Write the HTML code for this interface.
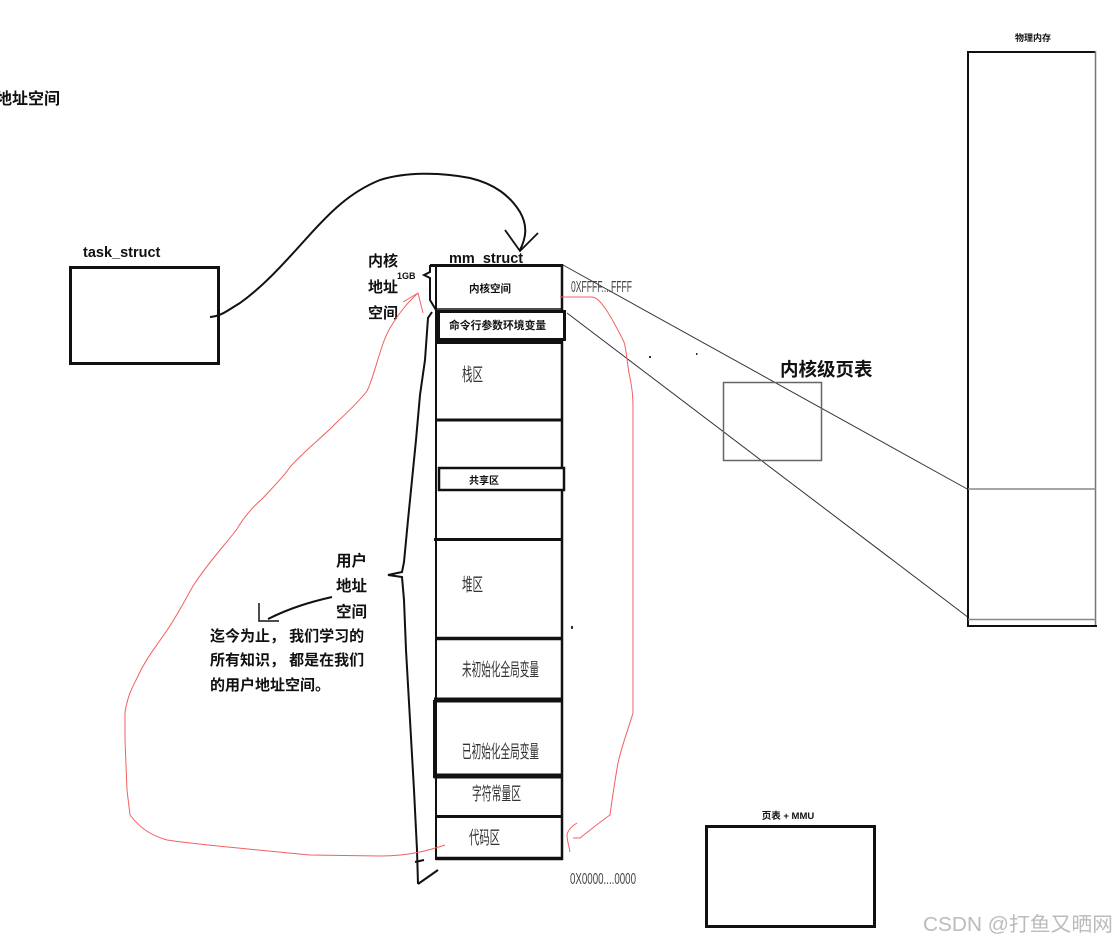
<!DOCTYPE html>
<html><head><meta charset="utf-8"><style>
html,body{margin:0;padding:0;background:#fff;}
svg{display:block;}
text{font-family:"Liberation Sans","Noto Sans CJK SC",sans-serif;}
.b{font-weight:bold;fill:#111;}
.c{fill:#333;font-family:"Noto Sans CJK SC","Liberation Sans",sans-serif;font-weight:400;}
</style></head><body>
<svg width="1119" height="944" viewBox="0 0 1119 944" xmlns="http://www.w3.org/2000/svg">
<rect width="1119" height="944" fill="#fff"/>

<!-- top-left clipped title -->
<text x="-4" y="104" class="b" font-size="16">地址空间</text>

<!-- task_struct -->
<text x="83" y="257" class="b" font-size="14.5">task_struct</text>
<rect x="70.5" y="267.5" width="148" height="96" fill="none" stroke="#111" stroke-width="3"/>

<!-- curve task -> mm -->
<path d="M210,317 C222,316 228,310 240,303 C265,285 285,262 305,240 C330,212 350,192 380,180 C405,172 440,172 470,178 C495,184 510,196 520,212 C528,226 526,238 520,250" fill="none" stroke="#111" stroke-width="2"/>
<path d="M505,230 L520,251 L538,233" fill="none" stroke="#111" stroke-width="1.8"/>

<!-- mm_struct label -->
<text x="449" y="263" class="b" font-size="14.5">mm_struct</text>

<!-- kernel labels -->
<text x="368" y="266" class="b" font-size="15">内核</text>
<text x="368" y="292" class="b" font-size="15">地址</text>
<text x="368" y="318" class="b" font-size="15">空间</text>
<text x="397" y="279" class="b" font-size="9">1GB</text>

<!-- brace top -->
<path d="M436,265 L430,266 L430,272 L424,275 L430,278 L430,300 L436,310" fill="none" stroke="#111" stroke-width="2"/>
<!-- long left brace -->
<path d="M432,312 L428,318 L425,360 L420,395 L416,440 L412,480 L408,520 L404,562 L402,572 L388,575 L402,577 L404,600 L406,650 L410,720 L414,790 L417,850 L418,884" fill="none" stroke="#111" stroke-width="2"/>
<path d="M415,862 L424,860 M418,884 L438,870" fill="none" stroke="#111" stroke-width="2"/>

<!-- memory column -->
<line x1="436" y1="264" x2="436" y2="860" stroke="#111" stroke-width="2"/>
<line x1="562" y1="264" x2="562" y2="860" stroke="#111" stroke-width="2.5"/>
<line x1="430" y1="265.5" x2="563" y2="265.5" stroke="#111" stroke-width="3"/>
<line x1="436" y1="309" x2="562" y2="309" stroke="#111" stroke-width="1.5"/>
<rect x="438.5" y="311.5" width="126" height="28" fill="#fff" stroke="#111" stroke-width="3"/>
<line x1="436" y1="342.5" x2="563" y2="342.5" stroke="#111" stroke-width="3"/>
<line x1="436" y1="420" x2="563" y2="420" stroke="#111" stroke-width="3"/>
<rect x="439" y="468" width="125" height="22" fill="#fff" stroke="#111" stroke-width="2.5"/>
<line x1="434" y1="539.5" x2="563" y2="539.5" stroke="#111" stroke-width="3"/>
<line x1="435" y1="638.5" x2="563" y2="638.5" stroke="#111" stroke-width="3.5"/>
<line x1="434" y1="700" x2="563" y2="700" stroke="#111" stroke-width="5"/>
<line x1="434" y1="700" x2="434" y2="778" stroke="#111" stroke-width="2"/>
<line x1="434" y1="776" x2="563" y2="776" stroke="#111" stroke-width="5"/>
<line x1="436" y1="816.5" x2="563" y2="816.5" stroke="#111" stroke-width="3"/>
<line x1="436" y1="858.5" x2="563" y2="858.5" stroke="#111" stroke-width="3.5"/>

<!-- region labels -->
<text x="469" y="292" class="b" font-size="10.5">内核空间</text>
<text x="449" y="329" class="b" font-size="10.8">命令行参数环境变量</text>
<text x="469" y="484" class="b" font-size="10">共享区</text>
<text x="462" y="381" class="c" font-size="18" textLength="21" lengthAdjust="spacingAndGlyphs">栈区</text>
<text x="462" y="591" class="c" font-size="18" textLength="21" lengthAdjust="spacingAndGlyphs">堆区</text>
<text x="462" y="676" class="c" font-size="18" textLength="77" lengthAdjust="spacingAndGlyphs">未初始化全局变量</text>
<text x="462" y="758" class="c" font-size="18" textLength="77" lengthAdjust="spacingAndGlyphs">已初始化全局变量</text>
<text x="472" y="800" class="c" font-size="18" textLength="49" lengthAdjust="spacingAndGlyphs">字符常量区</text>
<text x="469" y="844" class="c" font-size="18" textLength="31" lengthAdjust="spacingAndGlyphs">代码区</text>

<!-- addresses -->
<text x="571" y="292" fill="#444" font-size="16" textLength="61" lengthAdjust="spacingAndGlyphs">0XFFFF....FFFF</text>
<text x="570" y="884" fill="#444" font-size="16" textLength="66" lengthAdjust="spacingAndGlyphs">0X0000....0000</text>

<!-- lines to physical memory -->
<line x1="563" y1="265" x2="969" y2="490" stroke="#333" stroke-width="1"/>
<line x1="567" y1="313" x2="969" y2="618" stroke="#333" stroke-width="1"/>

<!-- kernel page table -->
<text x="780" y="376" class="b" font-size="18.5">内核级页表</text>
<rect x="723.5" y="382.5" width="98" height="78" fill="none" stroke="#666" stroke-width="1.5"/>

<!-- physical memory -->
<text x="1033" y="41" class="b" font-size="9" text-anchor="middle">物理内存</text>
<line x1="968" y1="52" x2="1096" y2="52" stroke="#111" stroke-width="2"/>
<line x1="968" y1="51" x2="968" y2="627" stroke="#111" stroke-width="2"/>
<line x1="1095.5" y1="51" x2="1095.5" y2="627" stroke="#777" stroke-width="1.5"/>
<line x1="968" y1="489" x2="1096" y2="489" stroke="#888" stroke-width="1.5"/>
<line x1="968" y1="619.5" x2="1096" y2="619.5" stroke="#888" stroke-width="1.5"/>
<line x1="967" y1="626" x2="1097" y2="626" stroke="#111" stroke-width="2"/>

<!-- MMU box -->
<text x="788" y="819" class="b" font-size="9.5" text-anchor="middle">页表 + MMU</text>
<rect x="706.5" y="826.5" width="168" height="100" fill="none" stroke="#111" stroke-width="3"/>

<!-- user space labels -->
<text x="336" y="566" class="b" font-size="15.5">用户</text>
<text x="336" y="591" class="b" font-size="15.5">地址</text>
<text x="336" y="617" class="b" font-size="15.5">空间</text>
<path d="M332,597 C310,602 290,608 268,619" fill="none" stroke="#111" stroke-width="2"/>
<path d="M259,603 L259,621 L279,621" fill="none" stroke="#111" stroke-width="1.5"/>
<text x="210" y="641" class="b" font-size="15">迄今为止， 我们学习的</text>
<text x="210" y="665" class="b" font-size="15">所有知识， 都是在我们</text>
<text x="210" y="690" class="b" font-size="15">的用户地址空间。</text>

<!-- red curves -->
<path d="M445,845 C430,850 410,856 380,856 L310,855 C260,850 200,845 167,840 C150,835 140,828 130,815 L127,790 L125,740 L125,712 C128,695 132,688 137,678 C145,660 155,648 163,636 C175,620 185,600 193,586 C210,560 225,545 237,529 C245,515 255,505 263,498 C275,485 285,475 290,467 C305,450 325,435 337,422 C350,410 360,400 367,391 C375,375 380,345 390,328 C398,315 405,305 417,294" fill="none" stroke="#f26060" stroke-width="1"/>
<path d="M403,302 L418,293 L423,313" fill="none" stroke="#f26060" stroke-width="1"/>
<path d="M560,297 L592,297 C598,298 600,302 605,308 C612,318 618,330 624,342 C627,352 627,365 630,378 C632,388 633,395 633,410 L633,640 L633,713 C628,730 622,745 618,763 C615,780 612,800 610,815 C600,822 590,830 580,838 L573,838" fill="none" stroke="#f26060" stroke-width="1"/>
<path d="M577,823 C572,826 568,830 567,835 C567,840 569,846 570,852" fill="none" stroke="#f26060" stroke-width="1"/>

<!-- tiny dots -->
<rect x="649" y="356" width="2" height="2" fill="#333"/>
<rect x="696" y="353" width="1.5" height="2" fill="#333"/>
<rect x="571" y="626" width="2" height="3" fill="#333"/>

<!-- watermark -->
<text x="923" y="931" fill="#bbb" font-size="20" textLength="190" lengthAdjust="spacingAndGlyphs">CSDN @打鱼又晒网</text>
</svg>
</body></html>
